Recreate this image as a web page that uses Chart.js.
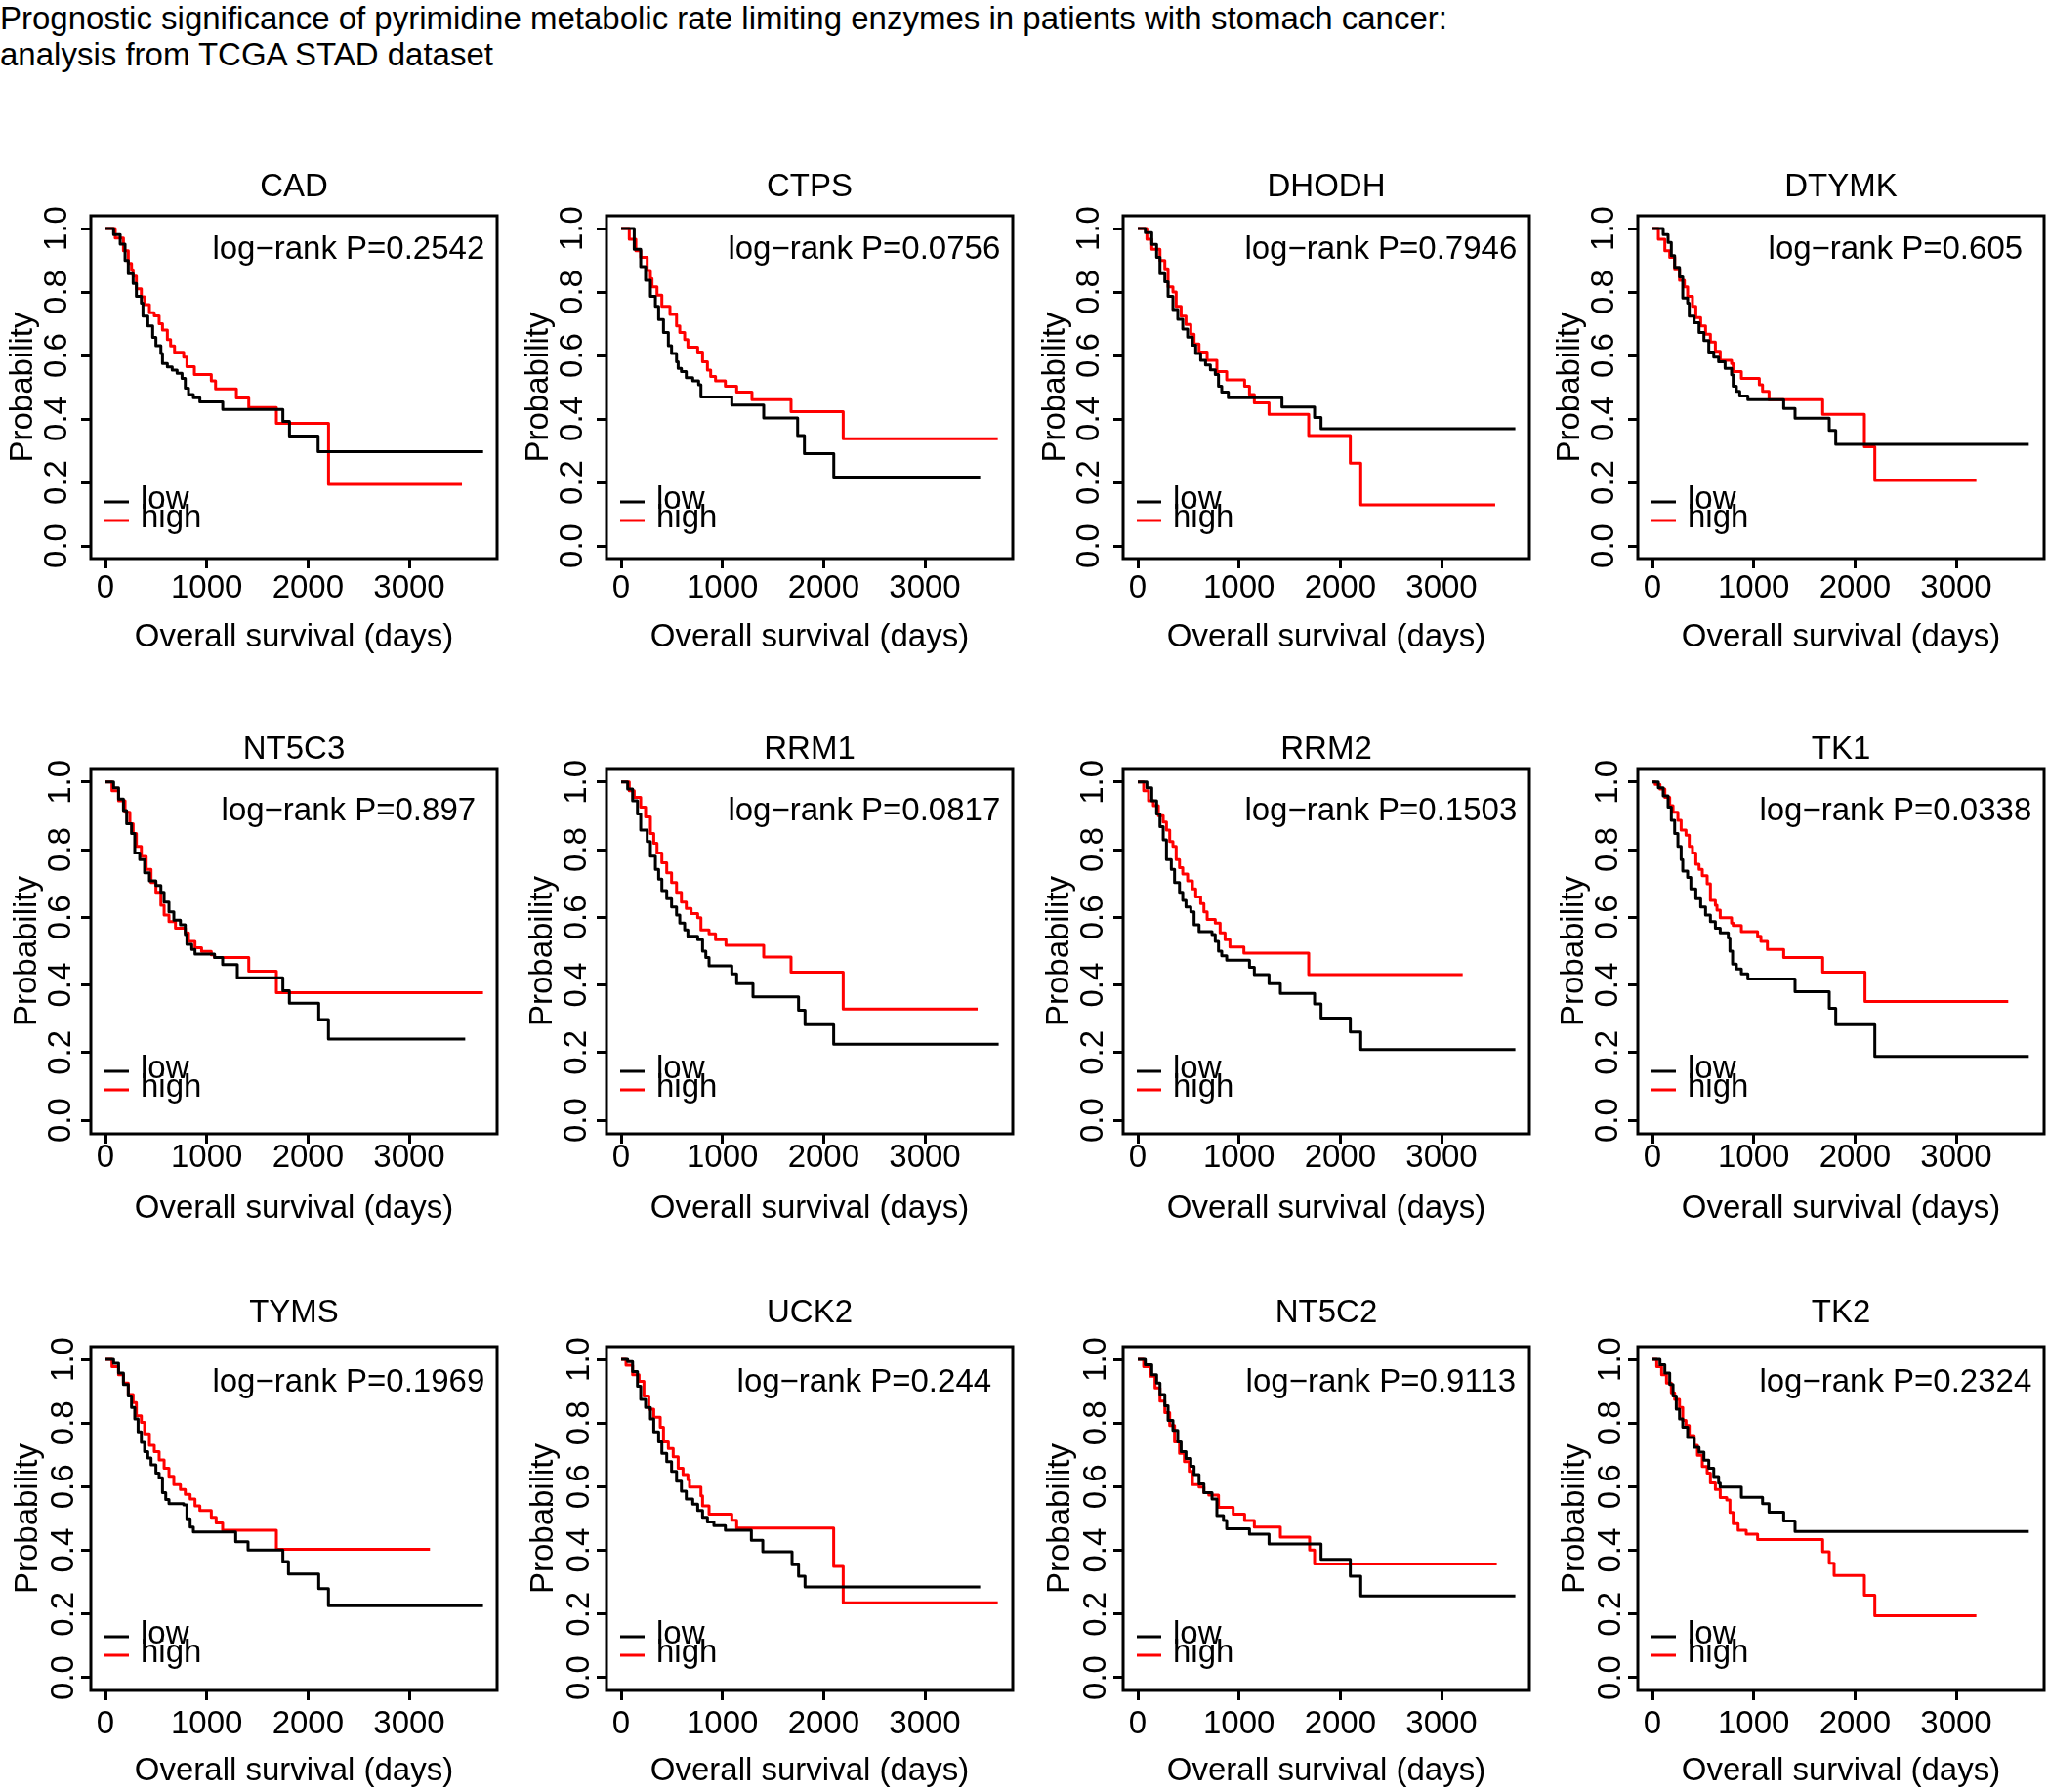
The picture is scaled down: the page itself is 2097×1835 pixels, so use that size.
<!DOCTYPE html>
<html>
<head>
<meta charset="utf-8">
<script src="https://cdn.jsdelivr.net/npm/chart.js@4.4.1/dist/chart.umd.min.js"></script>
<style>
  html, body { margin: 0; padding: 0; background: #fff; }
  body { width: 2097px; height: 1835px; position: relative; overflow: hidden; }
  #title { position: absolute; left: 0; top: 0px; font: 33px "Liberation Sans", Arial, sans-serif; line-height: 37px; color: #000; }
  canvas { position: absolute; }
</style>
</head>
<body>
<div id="title">Prognostic significance of pyrimidine metabolic rate limiting enzymes in patients with stomach cancer:<br>analysis from TCGA STAD dataset</div>
<script>
// ---- data (days, survival probability) ----
const genes = ['CAD', 'CTPS', 'DHODH', 'DTYMK', 'NT5C3', 'RRM1', 'RRM2', 'TK1', 'TYMS', 'UCK2', 'NT5C2', 'TK2'];
const pValues = ['0.2542', '0.0756', '0.7946', '0.605', '0.897', '0.0817', '0.1503', '0.0338', '0.1969', '0.244', '0.9113', '0.2324'];
const xTicks = [0, 1000, 2000, 3000];
const yTicks = [0, 0.2, 0.4, 0.6, 0.8, 1.0];
const yTickLabels = ['0.0', '0.2', '0.4', '0.6', '0.8', '1.0'];
const groupLabels = ['low', 'high'];

const cadLow = [[0,1],[80,0.981],[145,0.951],[193,0.899],[225,0.858],[273,0.827],[305,0.786],[354,0.765],[370,0.724],[418,0.693],[466,0.657],[498,0.631],[547,0.606],[563,0.575],[611,0.564],[659,0.554],[707,0.544],[756,0.528],[788,0.497],[820,0.477],[868,0.467],[932,0.454],[1158,0.43],[1752,0.392],[1817,0.346],[2100,0.297],[3730,0.297]];
const cadHigh = [[0,1],[96,0.97],[177,0.93],[225,0.89],[257,0.87],[273,0.85],[305,0.81],[354,0.785],[386,0.76],[434,0.735],[482,0.725],[530,0.70],[563,0.68],[611,0.65],[643,0.63],[682,0.61],[772,0.595],[804,0.565],[878,0.54],[1045,0.52],[1087,0.495],[1293,0.466],[1415,0.436],[1688,0.386],[2203,0.194],[3521,0.194]];
const ctpsLow = [[0,1],[129,0.935],[193,0.88],[241,0.837],[289,0.786],[338,0.755],[370,0.713],[418,0.672],[466,0.631],[498,0.606],[547,0.58],[563,0.559],[595,0.549],[643,0.53],[707,0.52],[765,0.508],[788,0.469],[1093,0.444],[1408,0.403],[1743,0.348],[1810,0.291],[2100,0.217],[3546,0.217]];
const ctpsHigh = [[0,1],[80,0.966],[145,0.93],[193,0.909],[257,0.868],[289,0.842],[305,0.816],[354,0.79],[402,0.755],[482,0.729],[547,0.693],[579,0.672],[627,0.65],[659,0.626],[756,0.611],[804,0.58],[852,0.554],[884,0.534],[932,0.52],[1029,0.503],[1141,0.485],[1292,0.461],[1678,0.423],[2193,0.338],[3720,0.338]];
const dhodhLow = [[0,1],[74,0.987],[138,0.95],[186,0.909],[219,0.858],[267,0.832],[299,0.786],[347,0.745],[395,0.714],[444,0.683],[492,0.658],[540,0.632],[572,0.606],[621,0.585],[669,0.57],[717,0.555],[765,0.54],[797,0.503],[829,0.485],[894,0.467],[1424,0.438],[1746,0.405],[1810,0.369],[3729,0.369]];
const dhodhHigh = [[0,1],[90,0.966],[138,0.935],[219,0.899],[267,0.873],[299,0.816],[347,0.80],[379,0.755],[428,0.724],[476,0.698],[524,0.667],[556,0.636],[605,0.611],[685,0.585],[781,0.549],[878,0.523],[1055,0.503],[1103,0.477],[1151,0.451],[1296,0.415],[1688,0.348],[2099,0.261],[2202,0.129],[3530,0.129]];
const dtymkLow = [[0,1],[106,0.981],[154,0.956],[186,0.915],[219,0.878],[267,0.848],[299,0.781],[347,0.765],[363,0.724],[412,0.703],[460,0.672],[508,0.647],[556,0.611],[605,0.595],[653,0.58],[717,0.559],[781,0.539],[797,0.503],[829,0.487],[862,0.472],[942,0.461],[1296,0.433],[1408,0.402],[1746,0.364],[1810,0.32],[3717,0.32]];
const dtymkHigh = [[0,1],[58,0.966],[122,0.93],[170,0.909],[219,0.873],[267,0.837],[315,0.816],[347,0.786],[395,0.755],[428,0.719],[476,0.693],[524,0.667],[572,0.642],[621,0.613],[669,0.585],[781,0.575],[797,0.549],[878,0.528],[1055,0.508],[1087,0.487],[1151,0.461],[1681,0.415],[2093,0.312],[2196,0.206],[3199,0.206]];
const nt5c3Low = [[0,1],[80,0.983],[129,0.95],[177,0.916],[209,0.877],[257,0.848],[289,0.79],[338,0.771],[386,0.732],[434,0.708],[498,0.694],[547,0.674],[579,0.645],[627,0.616],[675,0.592],[740,0.578],[788,0.549],[804,0.52],[852,0.505],[884,0.491],[1077,0.481],[1157,0.46],[1302,0.421],[1752,0.383],[1816,0.346],[2106,0.298],[2202,0.24],[3553,0.24]];
const nt5c3High = [[0,1],[64,0.974],[129,0.945],[193,0.911],[241,0.877],[273,0.848],[305,0.81],[354,0.78],[402,0.742],[450,0.703],[498,0.674],[547,0.636],[579,0.607],[627,0.587],[691,0.568],[788,0.554],[820,0.529],[884,0.51],[949,0.499],[1045,0.489],[1077,0.481],[1415,0.441],[1688,0.377],[3729,0.377]];
const rrm1Low = [[0,1],[64,0.979],[113,0.945],[161,0.906],[193,0.858],[257,0.824],[289,0.781],[338,0.742],[370,0.713],[402,0.679],[450,0.655],[498,0.631],[547,0.607],[579,0.583],[627,0.563],[659,0.544],[756,0.534],[804,0.50],[836,0.481],[868,0.457],[1093,0.433],[1141,0.404],[1302,0.365],[1752,0.325],[1816,0.283],[2099,0.225],[3729,0.225]];
const rrm1High = [[0,1],[80,0.974],[129,0.955],[193,0.926],[241,0.897],[289,0.848],[322,0.819],[354,0.79],[402,0.761],[450,0.732],[498,0.703],[547,0.674],[595,0.645],[643,0.626],[691,0.611],[756,0.599],[788,0.563],[868,0.551],[932,0.534],[1035,0.517],[1408,0.483],[1678,0.438],[2193,0.329],[3521,0.329]];
const rrm2Low = [[0,1],[90,0.983],[138,0.945],[186,0.906],[219,0.868],[251,0.829],[283,0.771],[331,0.742],[363,0.703],[412,0.674],[444,0.65],[476,0.631],[524,0.616],[556,0.578],[605,0.558],[733,0.549],[765,0.529],[797,0.50],[829,0.486],[878,0.473],[1103,0.452],[1151,0.431],[1296,0.404],[1408,0.375],[1746,0.344],[1810,0.302],[2099,0.261],[2202,0.209],[3729,0.209]];
const rrm2High = [[0,1],[58,0.974],[106,0.945],[154,0.93],[203,0.901],[251,0.882],[283,0.858],[315,0.824],[347,0.81],[379,0.771],[412,0.747],[444,0.728],[492,0.708],[540,0.684],[572,0.66],[621,0.641],[653,0.616],[685,0.594],[765,0.583],[813,0.554],[862,0.534],[910,0.512],[1048,0.494],[1688,0.431],[3209,0.431]];
const tk1Low = [[0,1],[58,0.983],[106,0.959],[154,0.926],[186,0.887],[219,0.848],[251,0.81],[283,0.771],[299,0.737],[347,0.718],[379,0.684],[428,0.655],[476,0.631],[524,0.607],[572,0.587],[621,0.568],[669,0.554],[749,0.539],[765,0.50],[791,0.462],[829,0.447],[878,0.433],[942,0.418],[1408,0.38],[1746,0.331],[1810,0.283],[2196,0.189],[3717,0.189]];
const tk1High = [[0,1],[26,0.993],[74,0.979],[122,0.955],[170,0.93],[203,0.911],[251,0.887],[283,0.858],[331,0.843],[363,0.81],[395,0.79],[428,0.757],[460,0.742],[492,0.723],[540,0.699],[572,0.65],[621,0.636],[637,0.621],[669,0.599],[781,0.583],[797,0.576],[878,0.558],[1038,0.544],[1071,0.529],[1135,0.505],[1296,0.481],[1681,0.438],[2099,0.351],[3514,0.351]];
const tymsLow = [[0,1],[80,0.988],[129,0.957],[177,0.921],[225,0.885],[257,0.849],[289,0.813],[322,0.772],[354,0.739],[386,0.71],[418,0.69],[450,0.669],[498,0.643],[530,0.628],[563,0.581],[595,0.56],[627,0.547],[772,0.543],[804,0.499],[836,0.473],[868,0.458],[1286,0.427],[1408,0.401],[1752,0.365],[1807,0.326],[2106,0.28],[2202,0.226],[3729,0.226]];
const tymsHigh = [[0,1],[64,0.977],[129,0.952],[177,0.926],[225,0.89],[273,0.864],[305,0.823],[354,0.802],[386,0.766],[434,0.73],[482,0.71],[530,0.684],[579,0.658],[627,0.633],[675,0.607],[740,0.591],[788,0.576],[836,0.561],[884,0.54],[932,0.525],[1045,0.504],[1093,0.486],[1157,0.463],[1688,0.403],[3205,0.403]];
const uck2Low = [[0,1],[64,0.993],[113,0.962],[161,0.916],[193,0.874],[241,0.849],[289,0.813],[322,0.772],[370,0.741],[402,0.705],[450,0.679],[498,0.648],[547,0.617],[595,0.586],[643,0.561],[707,0.545],[756,0.525],[804,0.504],[852,0.489],[916,0.478],[1029,0.463],[1286,0.432],[1399,0.396],[1688,0.355],[1752,0.319],[1816,0.285],[3546,0.285]];
const uck2High = [[0,1],[48,0.982],[113,0.952],[177,0.931],[225,0.885],[273,0.844],[322,0.818],[386,0.787],[418,0.741],[466,0.72],[514,0.694],[563,0.658],[611,0.638],[659,0.622],[675,0.599],[788,0.571],[804,0.54],[868,0.514],[1093,0.495],[1141,0.47],[2099,0.35],[2193,0.235],[3720,0.235]];
const nt5c2Low = [[0,1],[74,0.983],[138,0.952],[186,0.926],[219,0.89],[267,0.854],[299,0.808],[347,0.777],[395,0.741],[428,0.71],[476,0.689],[524,0.664],[556,0.638],[605,0.609],[653,0.581],[733,0.561],[781,0.509],[846,0.494],[878,0.468],[1103,0.451],[1296,0.42],[1810,0.372],[2099,0.319],[2202,0.257],[3729,0.257]];
const nt5c2High = [[0,1],[58,0.977],[122,0.947],[170,0.91],[219,0.869],[267,0.833],[315,0.792],[363,0.741],[412,0.705],[460,0.679],[508,0.648],[540,0.607],[605,0.599],[653,0.581],[701,0.574],[797,0.535],[942,0.514],[1055,0.494],[1151,0.473],[1408,0.442],[1697,0.401],[1746,0.357],[3546,0.357]];
const tk2Low = [[0,1],[74,0.983],[122,0.957],[170,0.921],[203,0.885],[235,0.844],[267,0.813],[299,0.787],[347,0.755],[412,0.724],[460,0.709],[508,0.683],[556,0.658],[605,0.632],[653,0.611],[669,0.599],[878,0.567],[1087,0.547],[1151,0.52],[1296,0.492],[1408,0.459],[3717,0.459]];
const tk2High = [[0,1],[42,0.977],[90,0.952],[138,0.926],[186,0.895],[219,0.874],[267,0.849],[299,0.808],[331,0.792],[363,0.761],[412,0.73],[444,0.699],[492,0.663],[540,0.643],[572,0.612],[621,0.591],[669,0.566],[733,0.558],[765,0.519],[797,0.484],[846,0.463],[926,0.451],[1038,0.434],[1681,0.396],[1746,0.36],[1794,0.321],[2093,0.259],[2196,0.195],[3199,0.195]];

const lowSeries = [cadLow, ctpsLow, dhodhLow, dtymkLow, nt5c3Low, rrm1Low, rrm2Low, tk1Low, tymsLow, uck2Low, nt5c2Low, tk2Low];
const highSeries = [cadHigh, ctpsHigh, dhodhHigh, dtymkHigh, nt5c3High, rrm1High, rrm2High, tk1High, tymsHigh, uck2High, nt5c2High, tk2High];

// ---- layout ----
const FONT = '33px "Liberation Sans", Arial, sans-serif';
const boxLeft = [93, 621, 1150, 1677];
const boxWidth = 416;
const boxTop = [221, 787, 1379];
const boxBottom = [572, 1161, 1731];
// per-row text offsets (px from the plot box)
const rowText = [
  { title: 20, pBase: 44, xTick: 40, xTitle: 90, yTick: 34, yTitle: 69, legLow: 58 },
  { title: 10, pBase: 53, xTick: 34, xTitle: 86, yTick: 30, yTitle: 65, legLow: 64 },
  { title: 25, pBase: 46, xTick: 44, xTitle: 92, yTick: 27, yTitle: 64, legLow: 55 }
];
const PAD_TOP = 60, PAD_BOTTOM = 110, PAD_LEFT = 93, PAD_RIGHT = 4;

const panelText = {
  id: 'panelText',
  afterDraw(chart, args, o) {
    const { ctx, chartArea: a, scales: { x, y } } = chart;
    const r = o.row;
    ctx.save();
    ctx.strokeStyle = '#000';
    ctx.lineWidth = 3;
    ctx.strokeRect(a.left, a.top, a.right - a.left, a.bottom - a.top);

    ctx.fillStyle = '#000';
    ctx.font = FONT;
    ctx.textBaseline = 'alphabetic';
    ctx.textAlign = 'center';
    // x tick labels
    x.ticks.forEach(t => ctx.fillText(String(t.value), x.getPixelForValue(t.value), a.bottom + r.xTick));
    // x title
    ctx.fillText('Overall survival (days)', (a.left + a.right) / 2, a.bottom + r.xTitle);
    // gene title
    ctx.fillText(o.gene, (a.left + a.right) / 2, a.top - r.title);
    // p value
    ctx.fillText('log\u2212rank P=' + o.p, x.getPixelForValue(2400), a.top + r.pBase);

    // y tick labels + title, rotated
    ctx.textBaseline = 'middle';
    y.ticks.forEach((t, i) => {
      ctx.save();
      ctx.translate(a.left - r.yTick, y.getPixelForValue(t.value));
      ctx.rotate(-Math.PI / 2);
      ctx.fillText(yTickLabels[i], 0, 0);
      ctx.restore();
    });
    ctx.save();
    ctx.translate(a.left - r.yTitle, (a.top + a.bottom) / 2);
    ctx.rotate(-Math.PI / 2);
    ctx.fillText('Probability', 0, 0);
    ctx.restore();

    // legend
    const colors = ['#000', '#ff0000'];
    ctx.textAlign = 'left';
    ctx.textBaseline = 'alphabetic';
    ctx.lineCap = 'butt';
    groupLabels.forEach((lab, i) => {
      const ly = a.bottom - r.legLow + i * 19;
      ctx.strokeStyle = colors[i];
      ctx.beginPath();
      ctx.moveTo(a.left + 14, ly);
      ctx.lineTo(a.left + 39, ly);
      ctx.stroke();
      ctx.fillStyle = '#000';
      ctx.fillText(lab, a.left + 51, ly + 7);
    });
    ctx.restore();
  }
};

genes.forEach((gene, i) => {
  const row = Math.floor(i / 4), col = i % 4;
  const boxH = boxBottom[row] - boxTop[row];
  const cv = document.createElement('canvas');
  const w = PAD_LEFT + boxWidth + PAD_RIGHT;
  const h = PAD_TOP + boxH + PAD_BOTTOM;
  cv.width = w; cv.height = h;
  cv.style.width = w + 'px'; cv.style.height = h + 'px';
  cv.style.left = (boxLeft[col] - PAD_LEFT) + 'px';
  cv.style.top = (boxTop[row] - PAD_TOP) + 'px';
  document.body.appendChild(cv);

  const line = (pts, color) => ({
    data: pts.map(p => ({ x: p[0], y: p[1] })),
    borderColor: color,
    borderWidth: 3,
    borderJoinStyle: 'round',
    stepped: true,
    pointRadius: 0,
    fill: false
  });

  new Chart(cv.getContext('2d'), {
    type: 'line',
    data: { datasets: [line(lowSeries[i], '#000000'), line(highSeries[i], '#ff0000')] },
    options: {
      responsive: false,
      animation: false,
      devicePixelRatio: 1,
      layout: { autoPadding: false, padding: { left: PAD_LEFT - 10, top: PAD_TOP, right: PAD_RIGHT, bottom: PAD_BOTTOM - 10 } },
      plugins: {
        legend: { display: false },
        tooltip: { enabled: false },
        panelText: { row: rowText[row], gene: gene, p: pValues[i] }
      },
      scales: {
        x: {
          type: 'linear', min: -145, max: 3868,
          afterBuildTicks: s => { s.ticks = xTicks.map(v => ({ value: v })); },
          afterFit: s => { s.height = 10; },
          ticks: { display: false },
          border: { display: false },
          grid: { drawOnChartArea: false, drawTicks: true, tickLength: 10, tickWidth: 3, tickColor: '#000', color: '#000', lineWidth: 3 }
        },
        y: {
          type: 'linear', min: -0.04, max: 1.04,
          afterBuildTicks: s => { s.ticks = yTicks.map(v => ({ value: v })); },
          afterFit: s => { s.width = 10; },
          ticks: { display: false },
          border: { display: false },
          grid: { drawOnChartArea: false, drawTicks: true, tickLength: 10, tickWidth: 3, tickColor: '#000', color: '#000', lineWidth: 3 }
        }
      }
    },
    plugins: [panelText]
  });
});
</script>
</body>
</html>
